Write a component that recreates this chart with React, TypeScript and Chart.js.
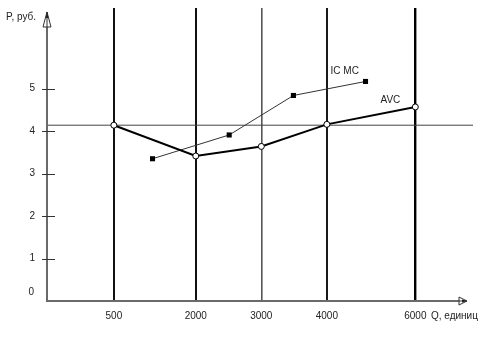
import React, { useEffect, useRef } from "react";
import { Chart, registerables } from "chart.js";

Chart.register(...registerables);

// Quantity tick labels and their positions along the (non-uniform) Q axis
const qLabels = ["500", "2000", "3000", "4000", "6000"];
const qPos = [1.02, 2.27, 3.27, 4.27, 5.62];
// Average variable cost at each quantity
const avc = [4.14, 3.415, 3.64, 4.16, 4.57];
// Marginal cost, plotted between quantities
const mcPos = [1.61, 2.78, 3.76, 4.86];
const mc = [3.35, 3.91, 4.84, 5.17];
// Price level
const priceLevel = 4.14;
const yTickValues = [1, 2, 3, 4, 5];

const X_MAX = 6.5;
const Y_MAX = 6.9;

const FONT = "Liberation Sans, Arial, sans-serif";
const TEXT = "#222";

export default function App() {
  const ref = useRef<HTMLCanvasElement | null>(null);

  useEffect(() => {
    if (!ref.current) return;

    const overlay = {
      id: "overlay",
      afterDatasetsDraw(chart: any) {
        const ctx = chart.ctx;
        const xs = chart.scales.x;
        const ys = chart.scales.y;
        const ax = xs.getPixelForValue(0);
        const ay = ys.getPixelForValue(0);
        const axisTop = ys.top + 4;
        const axisRight = xs.right - 7;
        ctx.save();
        ctx.strokeStyle = "#6a6a6a";
        ctx.lineWidth = 2;
        // y axis
        ctx.beginPath();
        ctx.moveTo(ax, ay + 1);
        ctx.lineTo(ax, axisTop);
        ctx.stroke();
        // x axis
        ctx.beginPath();
        ctx.moveTo(ax - 1, ay);
        ctx.lineTo(axisRight, ay);
        ctx.stroke();
        // y ticks crossing axis
        ctx.lineWidth = 1;
        ctx.strokeStyle = "#333";
        for (const v of yTickValues) {
          const py = Math.round(ys.getPixelForValue(v)) + 0.5;
          ctx.beginPath();
          ctx.moveTo(ax - 5, py);
          ctx.lineTo(ax + 8, py);
          ctx.stroke();
        }
        // arrows (hollow triangles)
        ctx.fillStyle = "#fff";
        ctx.strokeStyle = "#333";
        ctx.lineWidth = 1;
        ctx.beginPath();
        ctx.moveTo(ax, axisTop);
        ctx.lineTo(ax - 4, axisTop + 15);
        ctx.lineTo(ax + 4, axisTop + 15);
        ctx.closePath();
        ctx.fill();
        ctx.stroke();
        ctx.beginPath();
        ctx.moveTo(ax, axisTop);
        ctx.lineTo(ax, axisTop + 15);
        ctx.stroke();
        ctx.fillStyle = "#222";
        ctx.beginPath();
        ctx.moveTo(ax, axisTop);
        ctx.lineTo(ax - 1.5, axisTop + 6);
        ctx.lineTo(ax + 1.5, axisTop + 6);
        ctx.closePath();
        ctx.fill();

        ctx.fillStyle = "#fff";
        ctx.beginPath();
        ctx.moveTo(axisRight + 1, ay);
        ctx.lineTo(axisRight - 7, ay - 4);
        ctx.lineTo(axisRight - 7, ay + 4);
        ctx.closePath();
        ctx.fill();
        ctx.stroke();
        ctx.beginPath();
        ctx.moveTo(axisRight - 7, ay);
        ctx.lineTo(axisRight + 1, ay);
        ctx.stroke();
        ctx.fillStyle = "#222";
        ctx.beginPath();
        ctx.moveTo(axisRight + 1, ay);
        ctx.lineTo(axisRight - 4, ay - 1.5);
        ctx.lineTo(axisRight - 4, ay + 1.5);
        ctx.closePath();
        ctx.fill();

        // texts
        ctx.fillStyle = TEXT;
        ctx.font = "10px " + FONT;
        ctx.textBaseline = "middle";
        ctx.textAlign = "left";
        ctx.fillText("P, руб.", 6, 17);
        ctx.fillText("Q, единиц", 431, 316);
        ctx.textAlign = "right";
        ctx.fillText("0", ax - 13, ay - 9);

        const mcLastX = xs.getPixelForValue(mcPos[mcPos.length - 1]);
        const mcLastY = ys.getPixelForValue(mc[mc.length - 1]);
        ctx.textAlign = "left";
        ctx.fillText("IC MC", mcLastX - 35, mcLastY - 10);
        const avcLastX = xs.getPixelForValue(qPos[qPos.length - 1]);
        const avcLastY = ys.getPixelForValue(avc[avc.length - 1]);
        ctx.textAlign = "right";
        ctx.fillText("AVC", avcLastX - 15, avcLastY - 7);
        ctx.restore();
      },
    };

    const gridColors = ["#111", "#111", "#555", "#1a1a1a", "#000"];
    const gridWidths = [2, 2, 1.6, 2, 2.4];

    const chart = new Chart(ref.current, {
      type: "scatter",
      data: {
        datasets: [
          {
            label: "AVC",
            data: qPos.map((x, i) => ({ x, y: avc[i] })),
            showLine: true,
            borderColor: "#000",
            borderWidth: 2,
            pointRadius: 3,
            pointBackgroundColor: "#fff",
            pointBorderColor: "#000",
            pointBorderWidth: 1,
          },
          {
            label: "IC MC",
            data: mcPos.map((x, i) => ({ x, y: mc[i] })),
            showLine: true,
            borderColor: "#333",
            borderWidth: 1,
            pointStyle: "rect",
            pointRadius: 3.6,
            pointBackgroundColor: "#000",
            pointBorderColor: "#000",
            pointBorderWidth: 0,
          },
          {
            label: "P",
            data: [
              { x: 0, y: priceLevel },
              { x: X_MAX, y: priceLevel },
            ],
            showLine: true,
            borderColor: "#444",
            borderWidth: 1,
            pointRadius: 0,
          },
        ],
      },
      options: {
        animation: false,
        responsive: true,
        maintainAspectRatio: false,
        layout: { padding: { top: 8, right: 24, left: 0, bottom: 0 } },
        plugins: {
          legend: { display: false },
          tooltip: { enabled: false },
        },
        scales: {
          x: {
            type: "linear",
            min: 0,
            max: X_MAX,
            afterFit: (s: any) => {
              s.height = 48;
              s.paddingLeft = 0;
              s.paddingRight = 0;
            },
            afterBuildTicks: (s: any) => {
              s.ticks = qPos.map((v) => ({ value: v }));
            },
            border: { display: false },
            grid: {
              display: true,
              drawTicks: false,
              color: (c: any) => gridColors[c.index] ?? "#000",
              lineWidth: (c: any) => gridWidths[c.index] ?? 2,
            },
            ticks: {
              autoSkip: false,
              maxRotation: 0,
              padding: 9,
              color: TEXT,
              font: { family: FONT, size: 10 },
              callback: (_v: any, i: number) => qLabels[i],
            },
          },
          y: {
            type: "linear",
            min: 0,
            max: Y_MAX,
            afterFit: (s: any) => {
              s.width = 47;
              s.paddingTop = 0;
              s.paddingBottom = 0;
            },
            border: { display: false },
            grid: { display: false, drawTicks: false },
            ticks: {
              stepSize: 1,
              padding: 12,
              color: TEXT,
              font: { family: FONT, size: 10 },
              callback: (v: any) => (v >= 1 && v <= 5 ? String(v) : ""),
            },
          },
        },
      },
      plugins: [overlay],
    });

    return () => chart.destroy();
  }, []);

  return (
    <div
      style={{
        position: "fixed",
        left: 0,
        top: 0,
        width: 497,
        height: 349,
        background: "#fff",
      }}
    >
      <canvas ref={ref} />
    </div>
  );
}
